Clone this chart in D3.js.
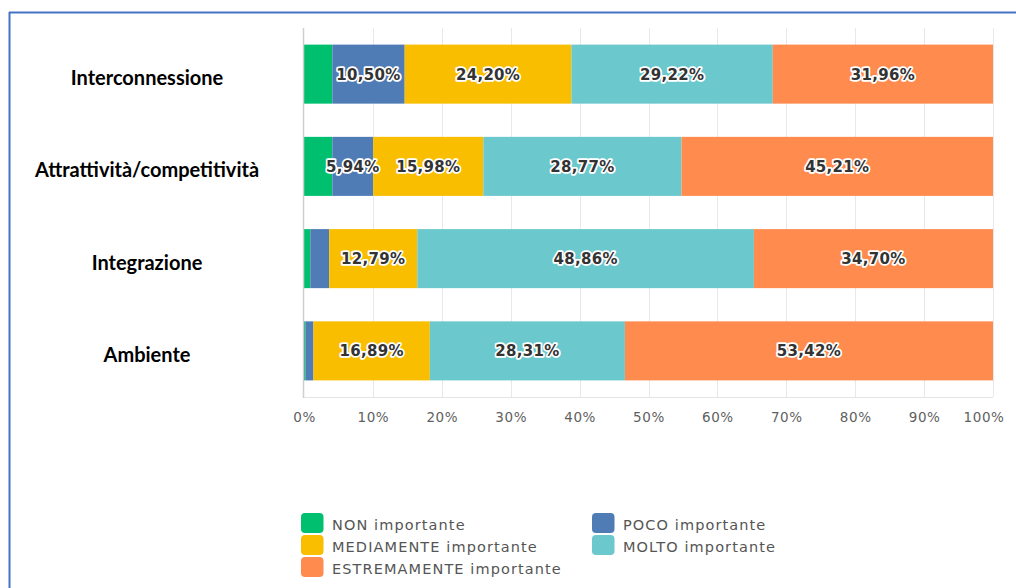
<!DOCTYPE html>
<html lang="it">
<head>
<meta charset="utf-8">
<title>Importanza dei fattori</title>
<script src="https://cdn.jsdelivr.net/npm/d3@7"></script>
<style>
  html, body { margin: 0; padding: 0; background: #ffffff; }
  svg { display: block; }
</style>
</head>
<body>
<svg id="chart" width="1016" height="588"></svg>
<script>
// Categories (rows of the chart)
const categories = ["Interconnessione", "Attrattività/competitività", "Integrazione", "Ambiente"];

// Share of answers per level of importance, in percent
const nonImportante = [4.11, 4.11, 0.91, 0.20];
const pocoImportante = [10.50, 5.94, 2.74, 1.17];
const mediamenteImportante = [24.20, 15.98, 12.79, 16.89];
const moltoImportante = [29.22, 28.77, 48.86, 28.31];
const estremamenteImportante = [31.96, 45.21, 34.70, 53.42];

// Series names, in stacking order
const seriesNames = ["NON importante", "POCO importante", "MEDIAMENTE importante", "MOLTO importante", "ESTREMAMENTE importante"];
const seriesColors = ["#00bf6f", "#507cb6", "#f9be00", "#6bc8cd", "#ff8b4f"];

// Axis ticks
const tickValues = [0, 0.1, 0.2, 0.3, 0.4, 0.5, 0.6, 0.7, 0.8, 0.9, 1];

const seriesValues = [nonImportante, pocoImportante, mediamenteImportante, moltoImportante, estremamenteImportante];
const rows = categories.map((c, i) => {
  const row = { category: c };
  seriesNames.forEach((s, j) => { row[s] = seriesValues[j][i]; });
  return row;
});

const svg = d3.select("#chart");

// Frame lines
svg.append("line").attr("x1", 9).attr("x2", 1016).attr("y1", 12.5).attr("y2", 12.5)
  .attr("stroke", "#4472c4").attr("stroke-width", 2);
svg.append("line").attr("x1", 9.5).attr("x2", 9.5).attr("y1", 12).attr("y2", 588)
  .attr("stroke", "#4472c4").attr("stroke-width", 2);

const plot = { left: 304, right: 993, top: 28, bottom: 397 };

const x = d3.scaleLinear().domain([0, 1]).range([plot.left, plot.right]);
const y = d3.scaleBand().domain(categories).range([plot.top, plot.bottom])
  .paddingInner(0.36).paddingOuter(0.18);
const color = d3.scaleOrdinal().domain(seriesNames).range(seriesColors);

const stacked = d3.stack().keys(seriesNames).offset(d3.stackOffsetExpand)(rows);

// Vertical gridlines
svg.append("g")
  .selectAll("line")
  .data(tickValues.slice(1))
  .join("line")
  .attr("x1", d => Math.round(x(d)) + 0.5)
  .attr("x2", d => Math.round(x(d)) + 0.5)
  .attr("y1", plot.top)
  .attr("y2", plot.bottom)
  .attr("stroke", "#e8e8e8")
  .attr("stroke-width", 1);

// Bottom baseline
svg.append("line")
  .attr("x1", plot.left).attr("x2", plot.right)
  .attr("y1", plot.bottom + 0.5).attr("y2", plot.bottom + 0.5)
  .attr("stroke", "#e4e4e4");

// Stacked bars
const layers = svg.append("g")
  .selectAll("g")
  .data(stacked)
  .join("g")
  .attr("fill", d => color(d.key));

layers.selectAll("rect")
  .data(d => d.map(p => ({ key: d.key, p })))
  .join("rect")
  .attr("x", d => x(d.p[0]))
  .attr("width", d => Math.max(0, x(d.p[1]) - x(d.p[0])))
  .attr("y", d => y(d.p.data.category))
  .attr("height", y.bandwidth());

// Left axis line
svg.append("line")
  .attr("x1", plot.left - 0.5).attr("x2", plot.left - 0.5)
  .attr("y1", plot.top).attr("y2", plot.bottom + 1)
  .attr("stroke", "#cfcfcf").attr("stroke-width", 1.5);

// Data labels
const it = d3.formatLocale({ decimal: ",", thousands: ".", grouping: [3], currency: ["", "€"] });
const fmt = v => it.format(".2f")(v) + "%";

const labels = [];
stacked.forEach(layer => {
  layer.forEach(p => {
    const v = p.data[layer.key];
    if (v >= 5) labels.push({ v, cx: (x(p[0]) + x(p[1])) / 2, cy: y(p.data.category) + y.bandwidth() / 2 });
  });
});

svg.append("g")
  .selectAll("text")
  .data(labels)
  .join("text")
  .attr("x", d => d.cx)
  .attr("y", d => d.cy + 5.5)
  .attr("text-anchor", "middle")
  .attr("font-family", "DejaVu Sans, sans-serif")
  .attr("font-weight", "bold")
  .attr("font-size", 15)
  .attr("letter-spacing", 0.3)
  .attr("fill", "#333333")
  .attr("stroke", "#ffffff")
  .attr("stroke-width", 3.5)
  .attr("stroke-linejoin", "round")
  .attr("paint-order", "stroke")
  .text(d => fmt(d.v));

// Category labels
svg.append("g")
  .selectAll("text")
  .data(categories)
  .join("text")
  .attr("x", 147)
  .attr("y", d => y(d) + y.bandwidth() / 2 + 11)
  .attr("text-anchor", "middle")
  .attr("font-family", "Lato, Liberation Sans, sans-serif")
  .attr("font-weight", "bold")
  .attr("font-size", 20)
  .attr("fill", "#000000")
  .text(d => d);

// Bottom axis
const xAxis = d3.axisBottom(x)
  .tickValues(tickValues)
  .tickFormat(d3.format(".0%"))
  .tickSize(0)
  .tickPadding(0);

const axisG = svg.append("g")
  .attr("transform", `translate(0,${plot.bottom + 15})`)
  .call(xAxis);
axisG.select(".domain").remove();
axisG.selectAll("text")
  .attr("font-family", "DejaVu Sans, sans-serif")
  .attr("font-size", 13.5)
  .attr("fill", "#5f5f5f")
  .attr("letter-spacing", 0.6);
// keep the last label inside the frame
axisG.selectAll(".tick").filter(d => d === 1).select("text")
  .attr("text-anchor", "end").attr("dx", 11);

// Legend
const legendItems = seriesNames.map((name, i) => ({ name, col: i % 2, row: Math.floor(i / 2) }));
const legend = svg.append("g").attr("transform", "translate(301,513)");
const li = legend.selectAll("g")
  .data(legendItems)
  .join("g")
  .attr("transform", d => `translate(${d.col * 291},${d.row * 22})`);
li.append("rect")
  .attr("width", 22.5).attr("height", 20)
  .attr("rx", 4).attr("ry", 4)
  .attr("fill", d => color(d.name));
li.append("text")
  .attr("x", 31)
  .attr("y", 16.5)
  .attr("font-family", "DejaVu Sans, sans-serif")
  .attr("font-size", 14.5)
  .attr("letter-spacing", 1.1)
  .attr("fill", "#555555")
  .text(d => d.name);
</script>
</body>
</html>
